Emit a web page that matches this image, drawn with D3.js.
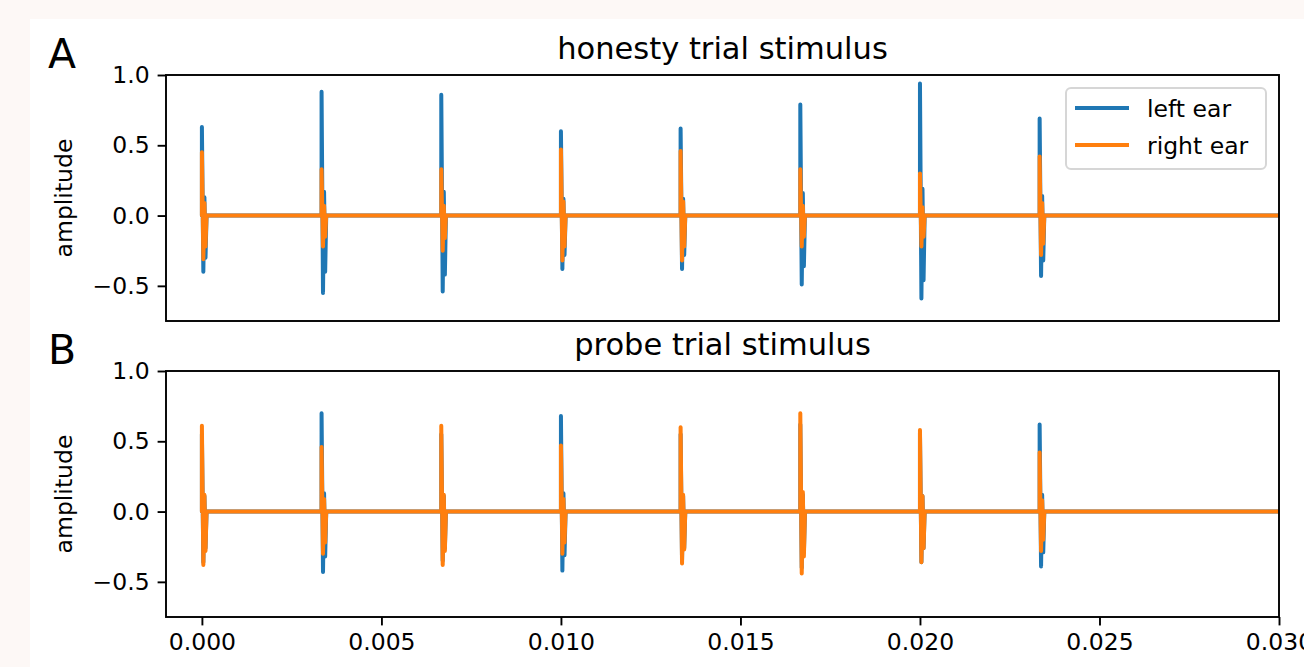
<!DOCTYPE html>
<html>
<head>
<meta charset="utf-8">
<script src="https://cdn.jsdelivr.net/npm/d3@7"></script>
<style>
  body { margin: 0; background: #fdf8f6; }
  svg { display: block; font-family: "DejaVu Sans", sans-serif; }
</style>
</head>
<body>
<div id="chart"></div>
<script>
// click onsets (s), one click every 1/300 s
const clickTimes = [0, 0.003333, 0.006667, 0.01, 0.013333, 0.016667, 0.02, 0.023333];
// each click: [peak, trough, second peak, second trough]
const honestyLeft = [
  [0.63, -0.40, 0.13, -0.30], [0.88, -0.55, 0.17, -0.40], [0.86, -0.54, 0.17, -0.42], [0.60, -0.38, 0.12, -0.28],
  [0.62, -0.38, 0.12, -0.28], [0.79, -0.49, 0.16, -0.36], [0.94, -0.59, 0.19, -0.46], [0.69, -0.43, 0.14, -0.32]
];
const honestyRight = [
  [0.45, -0.31, 0.09, -0.22], [0.33, -0.22, 0.07, -0.15], [0.33, -0.25, 0.07, -0.16], [0.47, -0.32, 0.10, -0.22],
  [0.46, -0.32, 0.10, -0.22], [0.33, -0.22, 0.07, -0.15], [0.30, -0.22, 0.06, -0.15], [0.42, -0.28, 0.09, -0.20]
];
const probeLeft = [
  [0.55, -0.36, 0.11, -0.26], [0.70, -0.43, 0.13, -0.32], [0.55, -0.35, 0.11, -0.26], [0.68, -0.42, 0.13, -0.31],
  [0.55, -0.35, 0.11, -0.26], [0.62, -0.40, 0.12, -0.29], [0.56, -0.36, 0.11, -0.26], [0.62, -0.39, 0.12, -0.29]
];
const probeRight = [
  [0.61, -0.38, 0.12, -0.28], [0.46, -0.30, 0.09, -0.22], [0.61, -0.38, 0.12, -0.28], [0.47, -0.30, 0.09, -0.22],
  [0.60, -0.37, 0.12, -0.27], [0.70, -0.44, 0.14, -0.32], [0.58, -0.36, 0.11, -0.26], [0.42, -0.28, 0.08, -0.20]
];
const clickOffsets = [0, 0.00004, 0.00007, 0.0001, 0.00013];
const xTicks = [0, 0.005, 0.01, 0.015, 0.02, 0.025, 0.03];
const yTicks = [1.0, 0.5, 0.0, -0.5];
const xDomain = [-0.001, 0.03];
const yDomain = [-0.75, 1.0];
const seriesNames = ["left ear", "right ear"];
const colors = ["#1f77b4", "#ff7f0e"];

const panels = [
  {letter: "A", title: "honesty trial stimulus", top: 75, left: honestyLeft, right: honestyRight, legend: true, xAxis: false},
  {letter: "B", title: "probe trial stimulus", top: 371, left: probeLeft, right: probeRight, legend: false, xAxis: true}
];

const W = 1304, H = 667;
const plot = {left: 166, right: 1279, height: 246};

const svg = d3.select("#chart").append("svg")
  .attr("width", W).attr("height", H);

svg.append("rect").attr("x", 30).attr("y", 19)
  .attr("width", W - 30).attr("height", H - 19).attr("fill", "#fff");

const x = d3.scaleLinear().domain(xDomain).range([plot.left, plot.right]);

function buildSeries(clicks) {
  const pts = [[0, 0]];
  clicks.forEach(function(c, i) {
    const t = clickTimes[i];
    pts.push([t + clickOffsets[0], 0]);
    pts.push([t + clickOffsets[0], c[0]]);
    pts.push([t + clickOffsets[1], c[1]]);
    pts.push([t + clickOffsets[2], c[2]]);
    pts.push([t + clickOffsets[3], c[3]]);
    pts.push([t + clickOffsets[4], 0]);
  });
  pts.push([xDomain[1], 0]);
  return pts;
}

const fmtY = function(d) { return d3.format(".1f")(d).replace("-", "\u2212"); };

panels.forEach(function(p, pi) {
  const y = d3.scaleLinear().domain(yDomain).range([p.top + plot.height, p.top]);
  const g = svg.append("g");

  // clip
  const clipId = "clip" + pi;
  svg.append("clipPath").attr("id", clipId).append("rect")
    .attr("x", plot.left).attr("y", p.top)
    .attr("width", plot.right - plot.left).attr("height", plot.height);

  const line = d3.line().x(function(d) { return x(d[0]); }).y(function(d) { return y(d[1]); });

  [p.left, p.right].forEach(function(clicks, si) {
    g.append("path")
      .datum(buildSeries(clicks))
      .attr("clip-path", "url(#" + clipId + ")")
      .attr("d", line)
      .attr("fill", "none")
      .attr("stroke", colors[si])
      .attr("stroke-width", 4)
      .attr("stroke-linejoin", "round")
      .attr("stroke-linecap", "round");
  });

  // frame
  g.append("rect")
    .attr("x", plot.left).attr("y", p.top)
    .attr("width", plot.right - plot.left).attr("height", plot.height)
    .attr("fill", "none").attr("stroke", "#000").attr("stroke-width", 1.9);

  // y axis
  const yAxis = g.append("g")
    .attr("transform", "translate(" + plot.left + ",0)")
    .call(d3.axisLeft(y).tickValues(yTicks).tickFormat(fmtY).tickSize(8.4).tickPadding(8));
  yAxis.select(".domain").remove();
  yAxis.selectAll(".tick line").attr("stroke-width", 1.9);
  yAxis.selectAll(".tick text").attr("font-size", 23.5).attr("fill", "#000")
    .attr("font-family", "DejaVu Sans");

  if (p.xAxis) {
    const xAxis = g.append("g")
      .attr("transform", "translate(0," + (p.top + plot.height) + ")")
      .call(d3.axisBottom(x).tickValues(xTicks).tickFormat(d3.format(".3f")).tickSize(8.4).tickPadding(8));
    xAxis.select(".domain").remove();
    xAxis.selectAll(".tick line").attr("stroke-width", 1.9);
    xAxis.selectAll(".tick text").attr("font-size", 23.5).attr("fill", "#000")
      .attr("font-family", "DejaVu Sans");
  }

  // y label
  g.append("text")
    .attr("transform", "translate(72," + (p.top + plot.height / 2) + ") rotate(-90)")
    .attr("text-anchor", "middle")
    .attr("font-size", 23.5)
    .text("amplitude");

  // title
  g.append("text")
    .attr("x", (plot.left + plot.right) / 2).attr("y", p.top - 16)
    .attr("text-anchor", "middle")
    .attr("font-size", 30.5)
    .text(p.title);

  // panel letter
  g.append("text")
    .attr("x", 48).attr("y", p.top - 7)
    .attr("font-size", 41)
    .text(p.letter);

  if (p.legend) {
    const lg = g.append("g");
    lg.append("rect")
      .attr("x", 1066).attr("y", 88).attr("width", 200).attr("height", 81)
      .attr("rx", 5).attr("fill", "#fff").attr("fill-opacity", 0.8)
      .attr("stroke", "#d6d6d6").attr("stroke-width", 2);
    seriesNames.forEach(function(name, i) {
      const yy = 108 + i * 37;
      lg.append("line").attr("x1", 1075).attr("x2", 1129).attr("y1", yy).attr("y2", yy)
        .attr("stroke", colors[i]).attr("stroke-width", 4);
      lg.append("text").attr("x", 1147).attr("y", yy + 8.5)
        .attr("font-size", 23.5).text(name);
    });
  }
});
</script>
</body>
</html>
